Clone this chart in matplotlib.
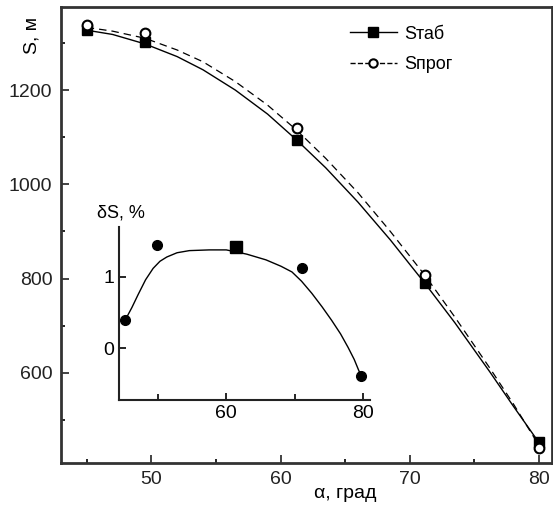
import matplotlib
matplotlib.use("Agg")
import matplotlib.pyplot as plt
import numpy as np

plt.rcParams['font.family'] = ['Liberation Sans', 'DejaVu Sans']

# main plot: points
angle = [45, 49.5, 61.25, 71.2, 80]
s_tab = [1327, 1302, 1094, 791, 453]
s_prog = [1338, 1321, 1119, 808, 441]

# main plot: curves
curve_x = [45, 47, 49.5, 52, 54, 56.5, 59, 61.25, 63.5, 66, 68.5, 71.2, 73.5, 76.2, 78, 80]
tab_curve = [1327, 1318, 1298, 1271, 1243, 1200, 1149, 1094, 1035, 962, 882, 789, 706, 602, 530, 452]
prog_curve = [1333, 1325, 1310, 1285, 1260, 1218, 1168, 1115, 1055, 982, 900, 806, 718, 610, 535, 446]

# inset: deviation, %
d_angle = [45.2, 49.9, 61.4, 71.0, 79.7]
d_s = [0.39, 1.45, 1.42, 1.13, -0.39]
d_curve_x = [45.2, 46.2, 47.1, 48.2, 49.3, 50.3, 51.3, 52.8, 54.6, 57.5, 60, 63, 65.8, 68, 69.6, 71, 72.5, 74, 75.4, 76.7, 77.8, 78.7, 79.3, 79.7]
d_curve_y = [0.39, 0.57, 0.75, 0.96, 1.12, 1.22, 1.28, 1.34, 1.37, 1.38, 1.38, 1.32, 1.24, 1.15, 1.07, 0.94, 0.77, 0.58, 0.39, 0.20, 0.01, -0.16, -0.30, -0.39]

fig = plt.figure(figsize=(5.53, 5.07), dpi=100)
ax = fig.add_axes([0.110, 0.087, 0.888, 0.899])

ax.plot(curve_x, tab_curve, '-', color='black', lw=1.0)
ax.plot(curve_x, prog_curve, '--', color='black', lw=0.9, dashes=(6, 4))
ax.plot(angle, s_tab, 's', color='black', ms=7)
ax.plot(angle, s_prog, 'o', mfc='white', mec='black', mew=1.5, ms=7)

# legend handles
ax.plot([], [], '-s', color='black', ms=7, lw=1.0, label='Sтаб')
ax.plot([], [], '--o', color='black', mfc='white', mew=1.5, ms=6, lw=1.0,
        label='Sпрог')
ax.legend(loc='upper left', frameon=False, fontsize=13,
          bbox_to_anchor=(0.555, 0.995), handlelength=2.6, labelspacing=0.75,
          handletextpad=0.4)

ax.set_xlim(43, 81)
ax.set_ylim(409, 1376)
ax.set_xticks([50, 60, 70, 80])
ax.set_xticks([45, 55, 65, 75], minor=True)
ax.set_yticks([600, 800, 1000, 1200])
ax.set_yticks([500, 700, 900, 1100, 1300], minor=True)
ax.tick_params(direction='in', labelsize=14, length=6, width=1.2, colors='#222', pad=6)
ax.tick_params(which='minor', direction='in', length=3, width=1.2)
for sp in ax.spines.values():
    sp.set_linewidth(2)
    sp.set_color('#333')

ax.set_xlabel('α, град', fontsize=14)
ax.xaxis.set_label_coords(0.58, -0.048)
fig.text(0.058, 0.93, 'S, м', rotation=90, fontsize=14, ha='center', va='center')

# inset
ins = fig.add_axes([0.215, 0.211, 0.454, 0.341])
ins.patch.set_alpha(0)
ins.plot(d_curve_x, d_curve_y, '-', color='black', lw=1.0)
markers = ['o', 'o', 's', 'o', 'o']
for x, y, m in zip(d_angle, d_s, markers):
    ins.plot(x, y, m, color='black', ms=7 if m == 'o' else 8)
ins.set_xlim(44.3, 81)
ins.set_ylim(-0.73, 1.7)
ins.set_xticks([60, 80])
ins.set_xticks([50, 70], minor=True)
ins.set_yticks([0, 1])
ins.spines['top'].set_visible(False)
ins.spines['right'].set_visible(False)
for sp in ['left', 'bottom']:
    ins.spines[sp].set_linewidth(1.5)
    ins.spines[sp].set_color('#222')
ins.tick_params(direction='in', labelsize=14, length=5, width=1.2)
ins.tick_params(which='minor', direction='in', length=4, width=1.2)
fig.text(0.218, 0.58, 'δS, %', fontsize=13, ha='center', va='center')

fig.savefig('out.png', dpi=100)
